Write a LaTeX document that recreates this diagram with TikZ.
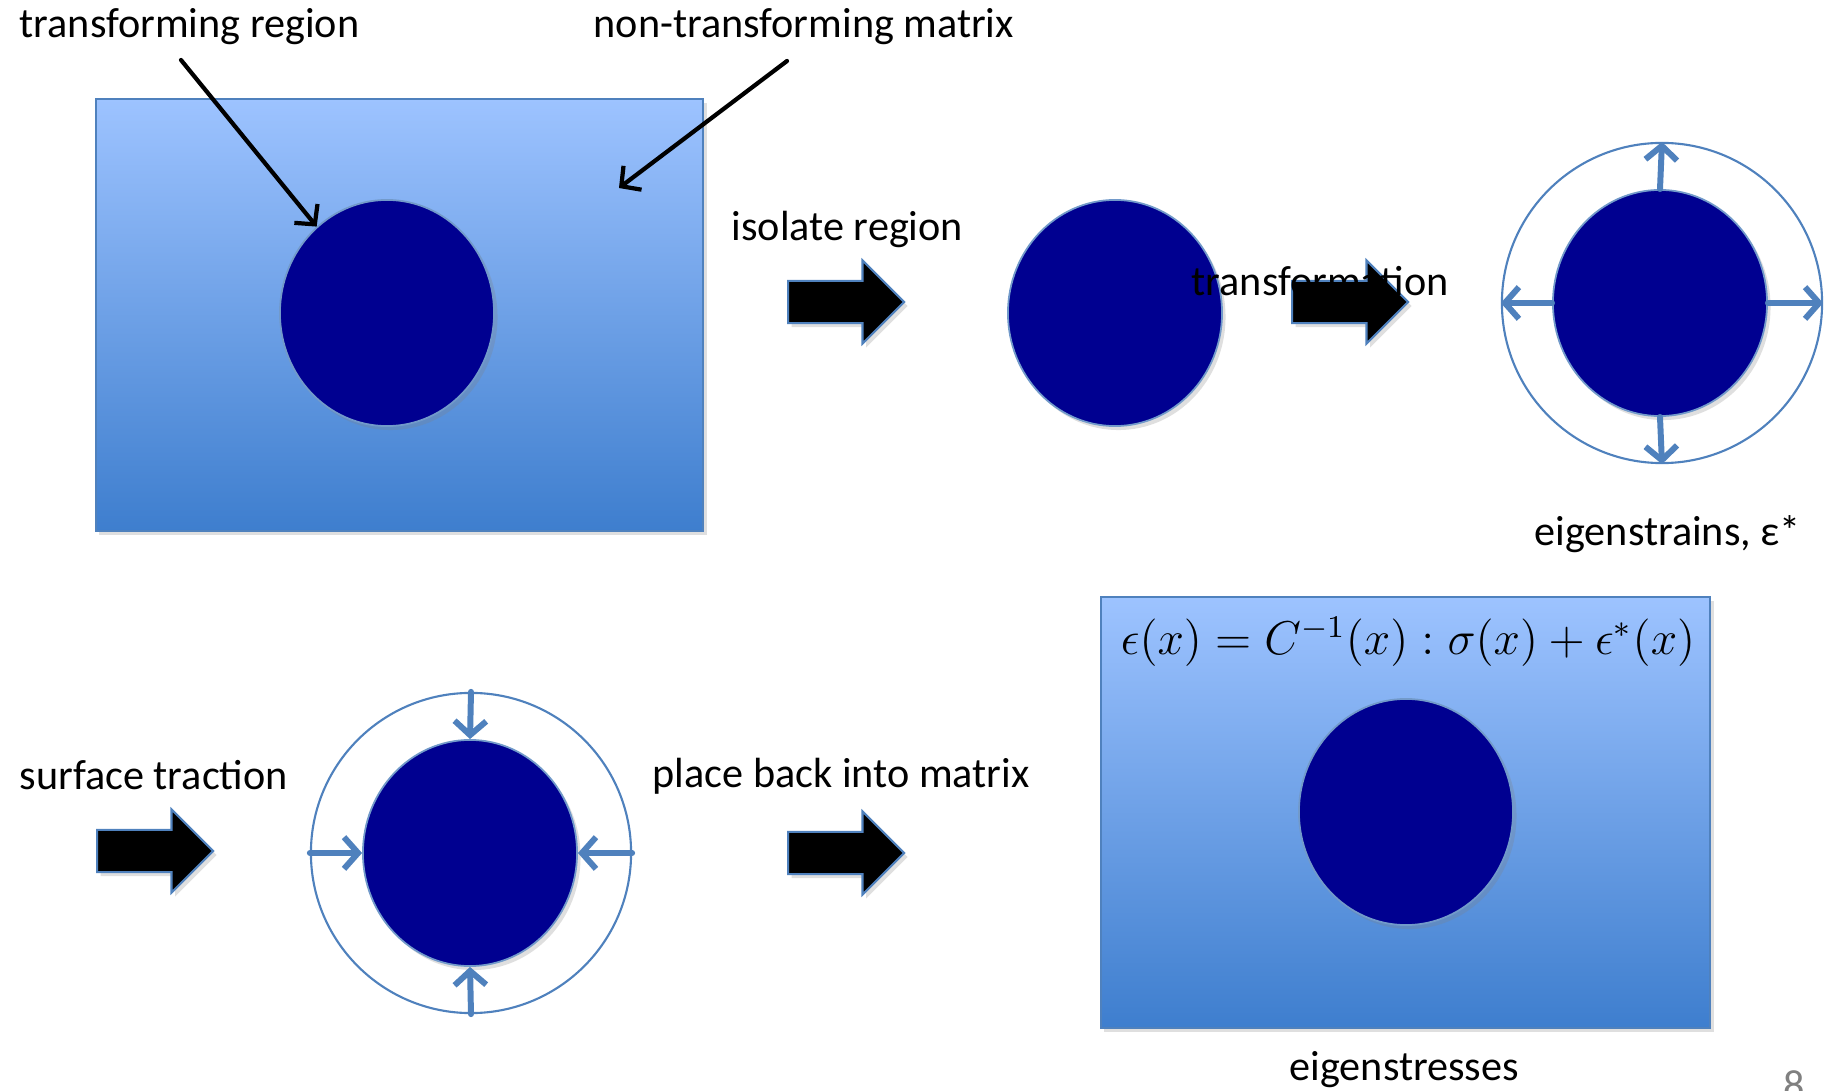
\documentclass[tikz,border=0pt]{standalone}
\usepackage[no-math]{fontspec}
\setmainfont{Carlito}
\usetikzlibrary{shapes.geometric,shapes.arrows,arrows.meta,shadows}
\definecolor{edgeblue}{RGB}{79,129,189}
\definecolor{inclblue}{RGB}{0,0,144}
\definecolor{mtxtop}{RGB}{157,195,255}
\definecolor{mtxbot}{RGB}{62,126,206}
\tikzset{
	lbl/.style={anchor=west, inner sep=0pt, font=\fontsize{12pt}{14pt}\selectfont},
	softshadow/.style={drop shadow={shadow xshift=0.035cm, shadow yshift=-0.04cm, opacity=0.25}},
	matrixbox/.style={rectangle, draw=edgeblue, line width=0.4pt, top color=mtxtop, bottom color=mtxbot, inner sep=0pt, softshadow},
	inclusion/.style={ellipse, draw=edgeblue!80, line width=0.5pt, fill=inclblue, minimum width=2.14cm, minimum height=2.26cm, inner sep=0pt, softshadow},
	ring/.style={circle, draw=edgeblue, line width=0.6pt, fill=white, minimum size=3.2cm, inner sep=0pt},
	ringarrow/.style={draw=edgeblue, line width=1.7pt, line cap=round, -{Straight Barb[length=4pt, width=9pt]}},
	pointer/.style={line width=1.2pt, line cap=round, -{Straight Barb[length=4pt, width=8.5pt]}},
	bigarrow/.style={single arrow, draw=edgeblue, line width=0.6pt, fill=black, anchor=tail, minimum height=1.16cm, inner xsep=0pt, inner ysep=0.2cm, single arrow head extend=0.205cm, single arrow tip angle=90, softshadow}
}
\begin{document}
\begin{tikzpicture}[x=0.01cm, y=-0.01cm]
	\useasboundingbox (0,0) rectangle (1832,1091);

	% top row
	\node[matrixbox, minimum width=6.07cm, minimum height=4.32cm] (mtxA) at (399.5,315) {};
	\node[inclusion] (inclA) at (387,313) {};
	\node[lbl] (trlabel) at (19,27) {transforming region};
	\node[lbl] (ntlabel) at (593,27) {non-transforming matrix};
	\coordinate (trstart) at (181,60);
	\coordinate (ntstart) at (787,61);
	\coordinate (mtxpt) at (619,188);
	\draw[pointer] (trstart) -- (inclA);
	\draw[pointer] (ntstart) -- (mtxpt);

	\node[lbl] (isolabel) at (731,229) {isolate region};
	\node[bigarrow] (arrIso) at (787,302) {};
	\node[inclusion] (inclB) at (1115,313) {};
	\node[bigarrow] (arrTrans) at (1291,302) {};
	\node[lbl] (translabel) at (1191,281) {transformation};

	\node[ring] (ringC) at (1662,303) {};
	\node[inclusion] (inclC) at (1660,303) {};
	\foreach \side in {north,south,east,west}
		\draw[ringarrow] (inclC.\side) -- (ringC.\side);
	\node[lbl] (strainlabel) at (1534,534) {eigenstrains, ε*};

	% bottom row
	\node[lbl] (traclabel) at (19,775) {surface traction};
	\node[bigarrow] (arrTrac) at (96,851) {};
	\node[ring] (ringD) at (471,853) {};
	\node[inclusion] (inclD) at (470,853) {};
	\foreach \side in {north,south,east,west}
		\draw[ringarrow] (ringD.\side) -- (inclD.\side);

	\node[lbl] (backlabel) at (652,776) {place back into matrix};
	\node[bigarrow] (arrBack) at (787,853) {};

	\node[matrixbox, minimum width=6.09cm, minimum height=4.31cm] (mtxE) at (1405.5,812.5) {};
	\node[inner sep=0pt, font=\fontsize{12pt}{14pt}\selectfont] (law) at (1408,642) {\scalebox{1.123}{$\epsilon(x) = C^{-1}(x) : \sigma(x) + \epsilon^*(x)$}};
	\node[inclusion] (inclE) at (1406,812) {};
	\node[lbl] (stresslabel) at (1289,1070) {eigenstresses};

	\node[lbl, anchor=north, text=gray] (pagenum) at (1794,1070) {8};
\end{tikzpicture}
\end{document}
